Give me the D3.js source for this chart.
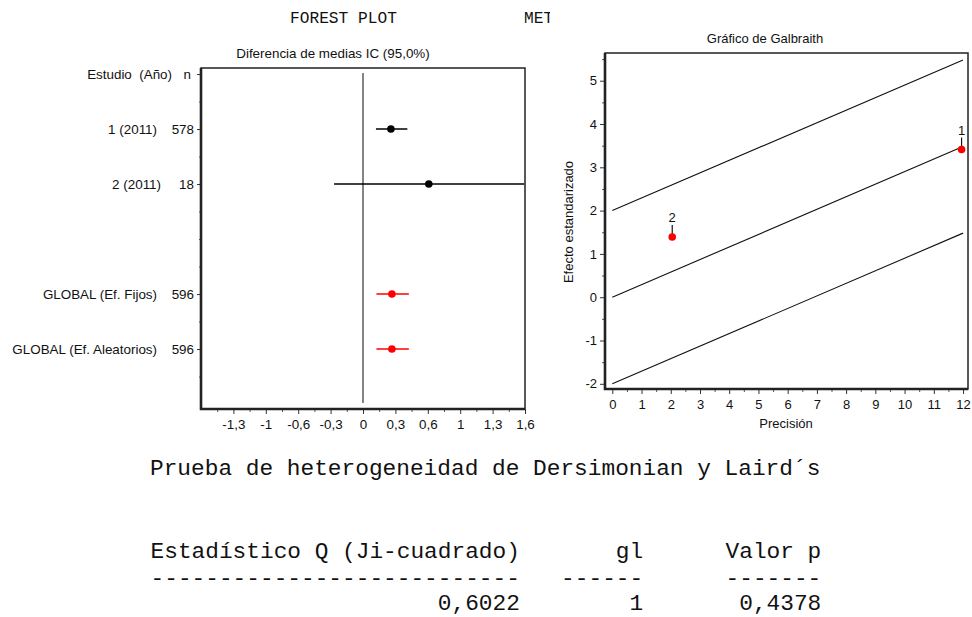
<!DOCTYPE html>
<html>
<head>
<meta charset="utf-8">
<script src="https://cdn.jsdelivr.net/npm/d3@7"></script>
<style>
  body { margin: 0; background: #fff; }
  svg { display: block; }
  text { font-family: "Liberation Sans", Arial, sans-serif; fill: #111; }
  .mono { font-family: "Liberation Mono", "Courier New", monospace; }
</style>
</head>
<body>
<div id="chart"></div>
<script>
/* DATA */
const studyNames = ["1 (2011)", "2 (2011)", "GLOBAL (Ef. Fijos)", "GLOBAL (Ef. Aleatorios)"];
const studyN = [578, 18, 596, 596];
const studyRow = [1, 2, 4, 5];
const meanDiff = [0.28, 0.66, 0.29, 0.29];
const ciLow = [0.13, -0.29, 0.135, 0.135];
const ciHigh = [0.445, 1.62, 0.46, 0.46];
const isGlobal = [false, false, true, true];
const forestTicks = [-1.3, -0.975, -0.65, -0.325, 0, 0.325, 0.65, 0.975, 1.3, 1.625];
const forestTickLabels = ["-1,3", "-1", "-0,6", "-0,3", "0", "0,3", "0,6", "1", "1,3", "1,6"];

const galbraithIds = ["1", "2"];
const precision = [11.95, 2.05];
const zScore = [3.41, 1.39];
const pooledSlope = 0.29;
const bandOffsets = [2, 0, -2];
const precisionTicks = d3.range(0, 13);
const zTicks = d3.range(-2, 6);

const hetHeader = ["Estadístico Q (Ji-cuadrado)", "gl", "Valor p"];
const hetDashes = ["---------------------------", "------", "-------"];
const hetValues = ["0,6022", "1", "0,4378"];

/* SETUP */
const width = 972, height = 617;
const fs = 13.4;
const svg = d3.select("#chart").append("svg")
  .attr("width", width)
  .attr("height", height);

svg.append("rect").attr("width", width).attr("height", height).attr("fill", "#fff");

// header in courier, the second word is cut by the right panel
svg.append("text").attr("class", "mono")
  .attr("x", 290).attr("y", 23)
  .attr("font-size", 16.2)
  .text("FOREST PLOT");

svg.append("clipPath").attr("id", "cutTitle")
  .append("rect").attr("x", 0).attr("y", 0).attr("width", 550).attr("height", 40);
svg.append("text").attr("class", "mono")
  .attr("x", 524).attr("y", 23)
  .attr("font-size", 16.2)
  .attr("clip-path", "url(#cutTitle)")
  .text("METAANÁLISIS");

/* FOREST PLOT */
const fx = d3.scaleLinear().domain([-1.625, 1.625]).range([201, 525]);
const fy = d3.scaleLinear().domain([-0.11, 6.09]).range([68, 409]);

const forest = svg.append("g");

forest.append("text")
  .attr("x", 333).attr("y", 58)
  .attr("text-anchor", "middle")
  .attr("font-size", fs)
  .text("Diferencia de medias IC  (95,0%)");

// x axis ticks
const fxMajor = forest.append("g")
  .attr("transform", `translate(0,${fy.range()[1]})`)
  .call(d3.axisBottom(fx).tickValues(forestTicks)
    .tickFormat((d, i) => forestTickLabels[i]).tickSize(5).tickSizeOuter(0));
fxMajor.select(".domain").remove();
fxMajor.selectAll("text").attr("font-size", fs).attr("dy", "0.9em")
  .attr("font-family", "Liberation Sans, Arial, sans-serif").attr("fill", "#111");
fxMajor.selectAll("line").attr("stroke", "#333");

const fxMinor = forest.append("g")
  .attr("transform", `translate(0,${fy.range()[1]})`)
  .call(d3.axisBottom(fx).tickValues(forestTicks.map(d => d - 0.1625))
    .tickFormat("").tickSize(3).tickSizeOuter(0));
fxMinor.select(".domain").remove();
fxMinor.selectAll("line").attr("stroke", "#555");

// y axis ticks
const fyMajor = forest.append("g")
  .attr("transform", `translate(${fx.range()[0]},0)`)
  .call(d3.axisLeft(fy).tickValues([0].concat(studyRow)).tickFormat("").tickSize(4).tickSizeOuter(0));
fyMajor.select(".domain").remove();
fyMajor.selectAll("line").attr("stroke", "#333");

const fyMinor = forest.append("g")
  .attr("transform", `translate(${fx.range()[0]},0)`)
  .call(d3.axisLeft(fy).tickValues(d3.range(0.5, 6, 0.5).filter(d => !Number.isInteger(d) || d === 3))
    .tickFormat("").tickSize(2).tickSizeOuter(0));
fyMinor.select(".domain").remove();
fyMinor.selectAll("line").attr("stroke", "#666");

// row labels
forest.append("text")
  .attr("x", 172).attr("y", fy(0)).attr("dy", "0.35em")
  .attr("text-anchor", "end").attr("font-size", fs)
  .attr("xml:space", "preserve").style("white-space", "pre")
  .text("Estudio  (Año)");
forest.append("text")
  .attr("x", 191).attr("y", fy(0)).attr("dy", "0.35em")
  .attr("text-anchor", "end").attr("font-size", fs)
  .text("n");

forest.selectAll("text.name")
  .data(studyNames)
  .join("text")
  .attr("class", "name")
  .attr("x", (d, i) => studyN[i] < 100 ? 161 : 157)
  .attr("y", (d, i) => fy(studyRow[i])).attr("dy", "0.35em")
  .attr("text-anchor", "end").attr("font-size", fs)
  .text(d => d);

forest.selectAll("text.nval")
  .data(studyN)
  .join("text")
  .attr("class", "nval")
  .attr("x", 194)
  .attr("y", (d, i) => fy(studyRow[i])).attr("dy", "0.35em")
  .attr("text-anchor", "end").attr("font-size", fs)
  .text(d => d);

// zero line
forest.append("line")
  .attr("x1", fx(0)).attr("x2", fx(0))
  .attr("y1", fy(-0.02)).attr("y2", fy(5.98))
  .attr("stroke", "#333").attr("stroke-width", 1.2);

// confidence intervals (clipped to frame)
svg.append("clipPath").attr("id", "forestClip")
  .append("rect").attr("x", fx.range()[0]).attr("y", fy.range()[0])
  .attr("width", fx.range()[1] - fx.range()[0]).attr("height", fy.range()[1] - fy.range()[0]);

const ci = forest.append("g").attr("clip-path", "url(#forestClip)");
ci.selectAll("line.ci")
  .data(meanDiff)
  .join("line")
  .attr("class", "ci")
  .attr("x1", (d, i) => fx(ciLow[i]))
  .attr("x2", (d, i) => fx(ciHigh[i]))
  .attr("y1", (d, i) => fy(studyRow[i]))
  .attr("y2", (d, i) => fy(studyRow[i]))
  .attr("stroke", (d, i) => isGlobal[i] ? "#f00" : "#000")
  .attr("stroke-width", 1.4);

ci.selectAll("circle.pt")
  .data(meanDiff)
  .join("circle")
  .attr("class", "pt")
  .attr("cx", d => fx(d))
  .attr("cy", (d, i) => fy(studyRow[i]))
  .attr("r", 3.8)
  .attr("fill", (d, i) => isGlobal[i] ? "#f00" : "#000");

// frame
forest.append("rect")
  .attr("x", fx.range()[0]).attr("y", fy.range()[0])
  .attr("width", fx.range()[1] - fx.range()[0]).attr("height", fy.range()[1] - fy.range()[0])
  .attr("fill", "none").attr("stroke", "#222").attr("stroke-width", 1.5);
forest.append("path")
  .attr("d", `M${fx.range()[0]},${fy.range()[0]}V${fy.range()[1]}H${fx.range()[1]}`)
  .attr("fill", "none").attr("stroke", "#222").attr("stroke-width", 2.6);

/* GALBRAITH PLOT */
const gx = d3.scaleLinear().domain([-0.25, 12.17]).range([605, 968]);
const gy = d3.scaleLinear().domain([-2.12, 5.64]).range([389, 53]);

const gal = svg.append("g");

gal.append("text")
  .attr("x", 765).attr("y", 43)
  .attr("text-anchor", "middle").attr("font-size", 13)
  .text("Gráfico de Galbraith");

const gxMajor = gal.append("g")
  .attr("transform", `translate(0,${gy.range()[0]})`)
  .call(d3.axisBottom(gx).tickValues(precisionTicks).tickSize(5).tickSizeOuter(0));
gxMajor.select(".domain").remove();
gxMajor.selectAll("text").attr("font-size", 13).attr("dy", "0.9em")
  .attr("font-family", "Liberation Sans, Arial, sans-serif").attr("fill", "#111");
gxMajor.selectAll("line").attr("stroke", "#333");

const gxMinor = gal.append("g")
  .attr("transform", `translate(0,${gy.range()[0]})`)
  .call(d3.axisBottom(gx).tickValues(precisionTicks.slice(0, -1).map(d => d + 0.5))
    .tickFormat("").tickSize(3).tickSizeOuter(0));
gxMinor.select(".domain").remove();
gxMinor.selectAll("line").attr("stroke", "#555");

const gyMajor = gal.append("g")
  .attr("transform", `translate(${gx.range()[0]},0)`)
  .call(d3.axisLeft(gy).tickValues(zTicks).tickFormat(d => String(d)).tickSize(5).tickSizeOuter(0));
gyMajor.select(".domain").remove();
gyMajor.selectAll("text").attr("font-size", 13)
  .attr("font-family", "Liberation Sans, Arial, sans-serif").attr("fill", "#111");
gyMajor.selectAll("line").attr("stroke", "#333");

const gyMinor = gal.append("g")
  .attr("transform", `translate(${gx.range()[0]},0)`)
  .call(d3.axisLeft(gy).tickValues(zTicks.map(d => d + 0.5)).tickFormat("").tickSize(3).tickSizeOuter(0));
gyMinor.select(".domain").remove();
gyMinor.selectAll("line").attr("stroke", "#555");

gal.append("text")
  .attr("x", 786).attr("y", 428)
  .attr("text-anchor", "middle").attr("font-size", 13)
  .text("Precisión");

gal.append("text")
  .attr("transform", "translate(573,222) rotate(-90)")
  .attr("text-anchor", "middle").attr("font-size", 13)
  .text("Efecto estandarizado");

// regression line and +-2 bands
gal.selectAll("line.band")
  .data(bandOffsets)
  .join("line")
  .attr("class", "band")
  .attr("x1", gx(0)).attr("y1", d => gy(d))
  .attr("x2", gx(12)).attr("y2", d => gy(d + pooledSlope * 12))
  .attr("stroke", "#111").attr("stroke-width", 1.1);

// studies
gal.selectAll("line.lead")
  .data(zScore)
  .join("line")
  .attr("class", "lead")
  .attr("x1", (d, i) => gx(precision[i])).attr("x2", (d, i) => gx(precision[i]))
  .attr("y1", d => gy(d)).attr("y2", d => gy(d) - 12)
  .attr("stroke", "#111").attr("stroke-width", 1.2);

gal.selectAll("circle.st")
  .data(zScore)
  .join("circle")
  .attr("class", "st")
  .attr("cx", (d, i) => gx(precision[i]))
  .attr("cy", d => gy(d))
  .attr("r", 3.8)
  .attr("fill", "#f00");

gal.selectAll("text.id")
  .data(galbraithIds)
  .join("text")
  .attr("class", "id")
  .attr("x", (d, i) => gx(precision[i]))
  .attr("y", (d, i) => gy(zScore[i]) - 15)
  .attr("text-anchor", "middle").attr("font-size", 13)
  .text(d => d);

gal.append("rect")
  .attr("x", gx.range()[0]).attr("y", gy.range()[1])
  .attr("width", gx.range()[1] - gx.range()[0]).attr("height", gy.range()[0] - gy.range()[1])
  .attr("fill", "none").attr("stroke", "#222").attr("stroke-width", 1.5);
gal.append("path")
  .attr("d", `M${gx.range()[0]},${gy.range()[1]}V${gy.range()[0]}H${gx.range()[1]}`)
  .attr("fill", "none").attr("stroke", "#222").attr("stroke-width", 2.6);

/* HETEROGENEITY TEXT */
const charW = 13.7;
const monoSize = 22.8;
const colEnd = [27, 36, 49].map(c => 150 + c * charW);

svg.append("text").attr("class", "mono")
  .attr("x", 150).attr("y", 475)
  .attr("font-size", monoSize)
  .text("Prueba de heterogeneidad de Dersimonian y Laird´s");

[hetHeader, hetDashes, hetValues].forEach((row, r) => {
  svg.selectAll(null)
    .data(row)
    .join("text")
    .attr("class", "mono")
    .attr("x", (d, i) => colEnd[i])
    .attr("y", [558, 585, 610][r])
    .attr("text-anchor", "end")
    .attr("font-size", monoSize)
    .text(d => d);
});
</script>
</body>
</html>
